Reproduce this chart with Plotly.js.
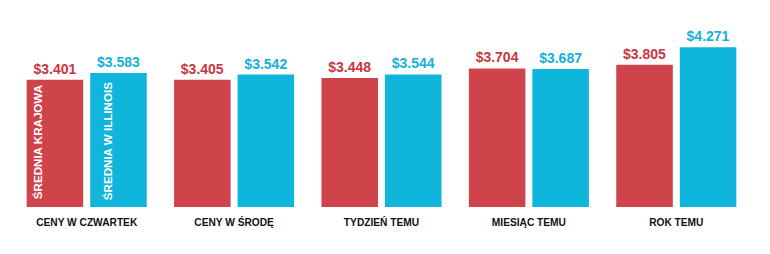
<!DOCTYPE html>
<html>
<head>
<meta charset="utf-8">
<script src="https://cdn.plot.ly/plotly-3.0.1.min.js"></script>
<style>html,body{margin:0;padding:0;background:#fff;}</style>
</head>
<body>
<div id="chart" style="width:770px;height:254px;"></div>
<script>
var categories = ["CENY W CZWARTEK", "CENY W ŚRODĘ", "TYDZIEŃ TEMU", "MIESIĄC TEMU", "ROK TEMU"];
var nationalAvg = [3.401, 3.405, 3.448, 3.704, 3.805];
var illinoisAvg = [3.583, 3.542, 3.544, 3.687, 4.271];
var seriesNames = ["ŚREDNIA KRAJOWA", "ŚREDNIA W ILLINOIS"];

var RED = "#CF434A", BLUE = "#0FB5DB";
var RED_TXT = "#C9363E", BLUE_TXT = "#14B0DA";
var FONT = "Liberation Sans, Arial, sans-serif";

var traces = [
  {
    type: "bar", name: seriesNames[0], x: categories, y: nationalAvg,
    marker: {color: RED},
    texttemplate: "$%{y:.3f}", textposition: "outside", cliponaxis: false,
    textfont: {family: FONT, size: 14, color: RED_TXT, weight: "bold"},
    hoverinfo: "none"
  },
  {
    type: "bar", name: seriesNames[1], x: categories, y: illinoisAvg,
    marker: {color: BLUE},
    texttemplate: "$%{y:.3f}", textposition: "outside", cliponaxis: false,
    textfont: {family: FONT, size: 14, color: BLUE_TXT, weight: "bold"},
    hoverinfo: "none"
  }
];

var layout = {
  width: 770, height: 254,
  margin: {l: 13, r: 20, t: 20, b: 47},
  paper_bgcolor: "#fff", plot_bgcolor: "#fff",
  showlegend: false,
  barmode: "group", bargap: 0.138, bargroupgap: 0.11,
  xaxis: {
    type: "category", showgrid: false, zeroline: false, showline: false,
    ticks: "", ticklabelstandoff: 8,
    tickfont: {family: FONT, size: 10.2, color: "#111", weight: "bold"}
  },
  yaxis: {range: [0, 5], visible: false, showgrid: false, zeroline: false},
  annotations: [
    {
      text: seriesNames[0], x: categories[0], y: 0, xref: "x", yref: "y",
      xanchor: "center", yanchor: "bottom", textangle: -90,
      xshift: -49, yshift: 6, showarrow: false,
      font: {family: FONT, size: 11.6, color: "#fff", weight: "bold"}
    },
    {
      text: seriesNames[1], x: categories[0], y: 0, xref: "x", yref: "y",
      xanchor: "center", yanchor: "bottom", textangle: -90,
      xshift: 20.5, yshift: 5, showarrow: false,
      font: {family: FONT, size: 11.6, color: "#fff", weight: "bold"}
    }
  ]
};

Plotly.newPlot("chart", traces, layout, {displayModeBar: false, staticPlot: true});
</script>
</body>
</html>
